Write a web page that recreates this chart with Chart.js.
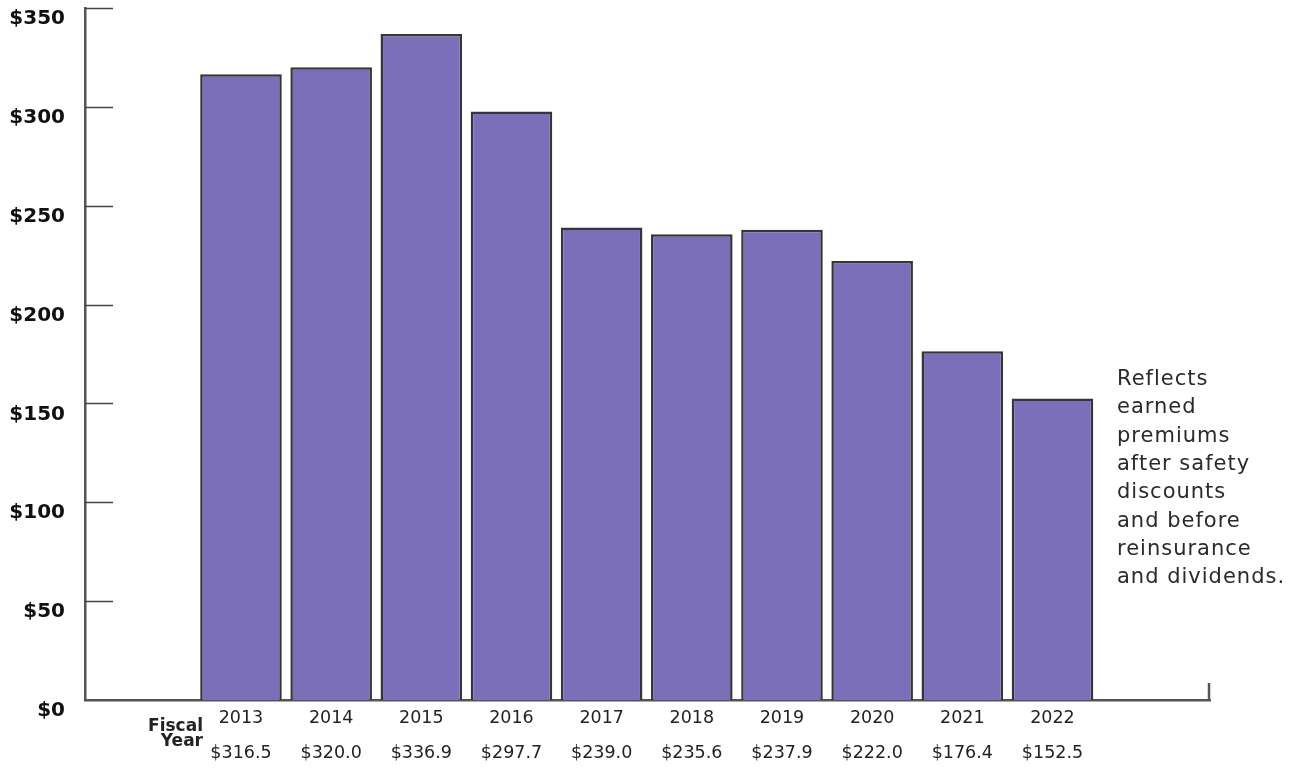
<!DOCTYPE html>
<html>
<head>
<meta charset="utf-8">
<script src="https://cdn.jsdelivr.net/npm/chart.js@4.4.1/dist/chart.umd.min.js"></script>
<style>
  html, body { margin: 0; padding: 0; background: #fff; }
  #wrap { width: 1306px; height: 770px; position: relative; }
</style>
</head>
<body>
<div id="wrap"><canvas id="premiumChart"></canvas></div>
<script>
// Earned premiums by fiscal year ($ millions)
const years = [2013, 2014, 2015, 2016, 2017, 2018, 2019, 2020, 2021, 2022];
const premiums = [316.5, 320.0, 336.9, 297.7, 239.0, 235.6, 237.9, 222.0, 176.4, 152.5];
const yTicks = [0, 50, 100, 150, 200, 250, 300, 350];
const noteLines = ['Reflects', 'earned', 'premiums', 'after safety', 'discounts', 'and before', 'reinsurance', 'and dividends.'];

const axisColor = '#555555';
const textFont = 'DejaVu Sans';

// inward y ticks, right end marker, side note and "Fiscal Year"
const decorations = {
    id: 'decorations',
    afterDraw(chart) {
        const ctx = chart.ctx;
        const area = chart.chartArea;
        const yScale = chart.scales.y;
        ctx.save();
        ctx.strokeStyle = '#444';
        ctx.lineWidth = 1.5;
        yTicks.forEach(v => {
            if (v === 0) return;
            const y = Math.round(yScale.getPixelForValue(v)) + 0.5;
            ctx.beginPath();
            ctx.moveTo(area.left, y);
            ctx.lineTo(area.left + 28, y);
            ctx.stroke();
        });
        // small end tick on the x axis
        ctx.strokeStyle = axisColor;
        ctx.lineWidth = 2.5;
        ctx.beginPath();
        ctx.moveTo(area.right - 1, area.bottom);
        ctx.lineTo(area.right - 1, area.bottom - 17);
        ctx.stroke();

        // Fiscal Year label
        ctx.fillStyle = '#222';
        ctx.font = 'bold 17px ' + textFont;
        ctx.textAlign = 'right';
        ctx.textBaseline = 'alphabetic';
        ctx.fillText('Fiscal', 203, 731);
        ctx.fillText('Year', 203, 746);

        // side note
        ctx.fillStyle = '#2a2a2a';
        ctx.font = '21px ' + textFont;
        ctx.textAlign = 'left';
        ctx.letterSpacing = '1px';
        noteLines.forEach((line, i) => {
            ctx.fillText(line, 1117, 385 + i * 28.3);
        });
        ctx.restore();
    }
};

const ctx = document.getElementById('premiumChart').getContext('2d');
window.premiumChart = new Chart(ctx, {
    type: 'bar',
    data: {
        datasets: [{
            data: years.map((yr, i) => ({ x: yr, y: premiums[i] })),
            backgroundColor: '#7b6fba',
            borderColor: '#363636',
            borderWidth: 2.5,
            categoryPercentage: 1,
            barPercentage: 0.905
        }]
    },
    options: {
        responsive: true,
        maintainAspectRatio: false,
        animation: false,
        layout: {
            padding: { top: 8, right: 96, left: 0, bottom: 0 }
        },
        plugins: {
            legend: { display: false },
            tooltip: { enabled: false }
        },
        scales: {
            x: {
                type: 'linear',
                offset: false,
                min: 2011.27,
                max: 2023.747,
                afterBuildTicks(scale) {
                    scale.ticks = years.map(v => ({ value: v }));
                },
                afterFit(scale) {
                    scale.height = 70;
                    scale.paddingLeft = 0;
                    scale.paddingRight = 0;
                },
                grid: { display: false, drawTicks: false },
                border: { display: true, color: axisColor, width: 2.5 },
                ticks: {
                    autoSkip: false,
                    maxRotation: 0,
                    padding: 1,
                    color: '#222',
                    font: { family: textFont, size: 17.5, lineHeight: 2 },
                    callback(value) {
                        const i = years.indexOf(value);
                        if (i < 0) return '';
                        return [String(value), '$' + premiums[i].toFixed(1)];
                    }
                }
            },
            y: {
                min: 0,
                max: 350,
                afterBuildTicks(scale) {
                    scale.ticks = yTicks.map(v => ({ value: v }));
                },
                afterFit(scale) {
                    scale.width = 85;
                    scale.paddingTop = 0;
                    scale.paddingBottom = 0;
                },
                grid: { display: false, drawTicks: false },
                border: { display: true, color: axisColor, width: 2.5 },
                ticks: {
                    padding: 20,
                    labelOffset: 11,
                    color: '#111',
                    font: { family: textFont, size: 20, weight: 'bold' },
                    callback: v => '$' + v
                }
            }
        }
    },
    plugins: [decorations]
});
</script>
</body>
</html>
